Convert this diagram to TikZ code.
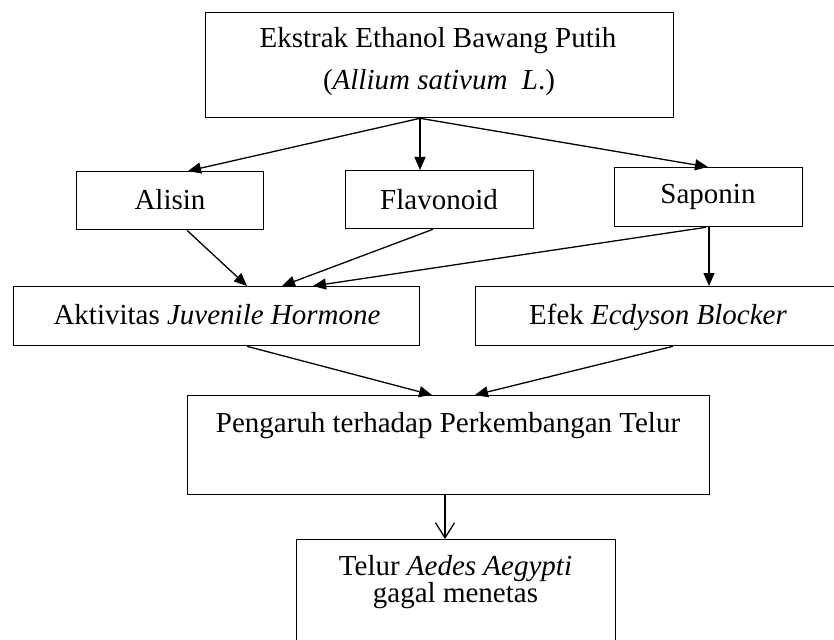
\documentclass[tikz,border=0pt]{standalone}
\usepackage{fontspec}
\setmainfont{Liberation Serif}
\usetikzlibrary{arrows.meta}
\begin{document}
\begin{tikzpicture}[x=1pt,y=-1pt,
  box/.style={draw,line width=1.3pt,inner sep=0pt,anchor=north west},
  txt/.style={font=\fontsize{29}{27}\selectfont,inner sep=0pt,align=center,anchor=base},
  arr/.style={line width=1.3pt,-{Triangle[length=13pt,width=11pt]}},
  openarr/.style={line width=1.3pt,-{Straight Barb[length=15pt,width=19pt,line width=1.3pt]}}]
\useasboundingbox (0,0) rectangle (834,639);
\clip (0,0) rectangle (834,639);
% boxes
\node[box,minimum width=468pt,minimum height=105pt] (top) at (205,12) {};
\node[box,minimum width=187pt,minimum height=58pt] (alisin) at (76,171) {};
\node[box,minimum width=188pt,minimum height=58pt] (flav) at (345,170) {};
\node[box,minimum width=188pt,minimum height=59pt] (sapo) at (614,167) {};
\node[box,minimum width=406pt,minimum height=59pt] (akt) at (13,286) {};
\node[box,minimum width=366pt,minimum height=59pt] (efek) at (475,286) {};
\node[box,minimum width=522pt,minimum height=99pt] (peng) at (187,395) {};
\node[box,minimum width=319pt,minimum height=130pt] (telur) at (296,539) {};
% texts
\node[txt] (t1) at (438,48) {Ekstrak Ethanol Bawang Putih};
\node[txt] (t2) at (439,90) {(\textit{Allium sativum\ \ L}.)};
\node[txt] (ta) at (170,209) {Alisin};
\node[txt] (tf) at (439,209) {Flavonoid};
\node[txt] (ts) at (708,203) {Saponin};
\node[txt] (tj) at (217,324) {Aktivitas \textit{Juvenile Hormone}};
\node[txt] (te) at (658,324) {Efek \textit{Ecdyson Blocker}};
\node[txt] (tp) at (448,432) {Pengaruh terhadap Perkembangan Telur};
\node[txt] (tt) at (455.5,602) {Telur \textit{Aedes Aegypti}\\gagal menetas};
% connectors
\draw[arr] ([xshift=215pt]top.south west) -- ([xshift=112pt]alisin.north west);
\draw[arr] ([xshift=215pt]top.south west) -- ([xshift=75pt]flav.north west);
\draw[arr] ([xshift=215pt]top.south west) -- ([xshift=94pt]sapo.north west);
\draw[arr] ([xshift=111pt]alisin.south west) -- ([xshift=234pt]akt.north west);
\draw[arr] ([xshift=88pt]flav.south west) -- ([xshift=269pt]akt.north west);
\draw[arr] ([xshift=92pt]sapo.south west) -- ([xshift=300pt]akt.north west);
\draw[arr] ([xshift=95pt]sapo.south west) -- ([xshift=234pt]efek.north west);
\draw[arr] ([xshift=234pt]akt.south west) -- ([xshift=245pt]peng.north west);
\draw[arr] ([xshift=198pt]efek.south west) -- ([xshift=288pt]peng.north west);
\draw[openarr] ([xshift=258pt]peng.south west) -- ([xshift=149pt]telur.north west);
\end{tikzpicture}
\end{document}
